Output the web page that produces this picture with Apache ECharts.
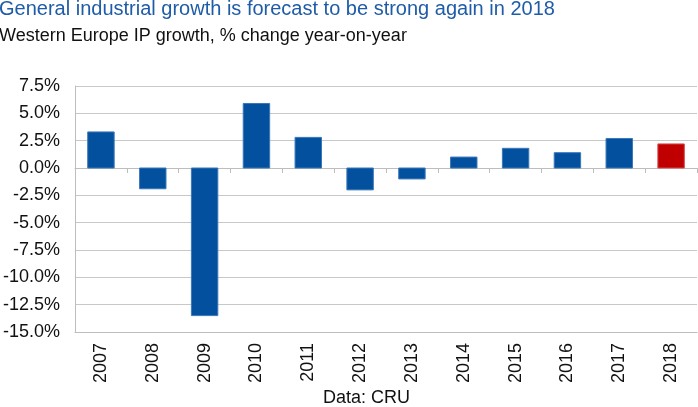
<!DOCTYPE html>
<html>
<head>
<meta charset="utf-8">
<script src="https://cdn.jsdelivr.net/npm/echarts@6/dist/echarts.min.js"></script>
<style>
html, body { margin: 0; padding: 0; background: #fff; }
#main { width: 698px; height: 407px; }
</style>
</head>
<body>
<div id="main"></div>
<script>
var years = ['2007', '2008', '2009', '2010', '2011', '2012', '2013', '2014', '2015', '2016', '2017', '2018'];
var growth = [3.3, -1.9, -13.5, 5.9, 2.8, -2.0, -1.0, 1.0, 1.8, 1.4, 2.7, 2.2];
var forecastYear = '2018';

var font = 'Liberation Sans, Arial, sans-serif';
var chart = echarts.init(document.getElementById('main'));

var barData = [];
for (var i = 0; i < years.length; i++) {
	var isForecast = years[i] === forecastYear;
	barData.push({
		value: growth[i],
		itemStyle: {
			color: isForecast ? '#C00000' : '#02509E',
			borderColor: isForecast ? '#D44a4a' : '#3B78B8'
		}
	});
}

chart.setOption({
	animation: false,
	title: [{
		text: 'General industrial growth is forecast to be strong again in 2018',
		subtext: 'Western Europe IP growth, % change year-on-year',
		left: -1,
		top: -1,
		padding: 0,
		itemGap: 8,
		textStyle: { fontFamily: font, fontSize: 20, fontWeight: 'normal', color: '#1F5CA8' },
		subtextStyle: { fontFamily: font, fontSize: 18, color: '#111' }
	}, {
		text: 'Data: CRU',
		left: 323,
		bottom: 0,
		padding: 0,
		textStyle: { fontFamily: font, fontSize: 18, fontWeight: 'normal', color: '#111' }
	}],
	grid: { left: 72, right: 1, top: 86, bottom: 75 },
	xAxis: [{
		type: 'category',
		data: years,
		axisLine: { onZero: true, lineStyle: { color: '#BDBDBD', width: 1 } },
		axisTick: { show: true, length: 5, lineStyle: { color: '#BDBDBD' } },
		axisLabel: { show: false }
	}, {
		type: 'category',
		data: years,
		position: 'bottom',
		axisLine: { onZero: false, lineStyle: { color: '#BDBDBD' } },
		axisTick: { show: false },
		axisLabel: {
			rotate: 90,
			margin: 11,
			fontFamily: font,
			fontSize: 18,
			color: '#111'
		}
	}],
	yAxis: {
		type: 'value',
		min: -15,
		max: 7.5,
		interval: 2.5,
		axisLine: { show: true, lineStyle: { color: '#BDBDBD' } },
		axisTick: { show: false },
		splitLine: { lineStyle: { color: '#C8C8C8', width: 1 } },
		axisLabel: {
			margin: 15,
			fontFamily: font,
			fontSize: 18,
			color: '#111',
			formatter: function(v) {
				return v.toFixed(1) + '%';
			}
		}
	},
	series: [{
		type: 'bar',
		xAxisIndex: 0,
		barWidth: '51%',
		data: barData
	}]
});
</script>
</body>
</html>
